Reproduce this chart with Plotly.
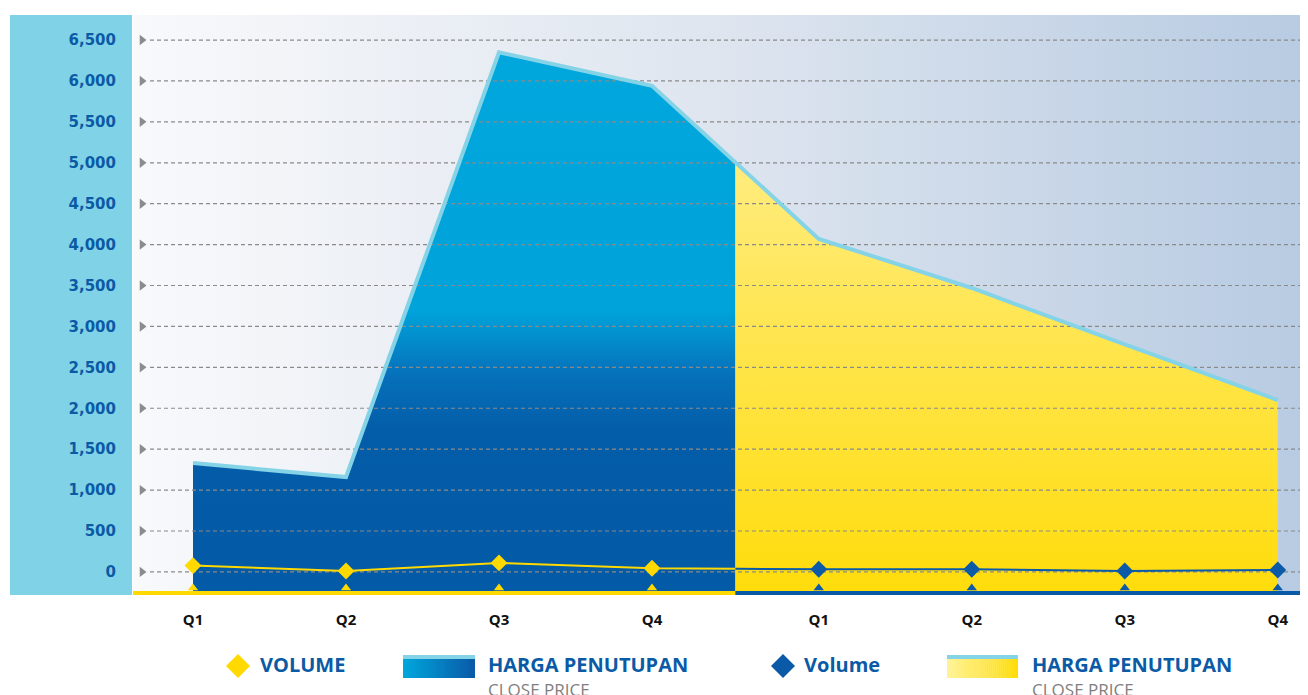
import plotly.graph_objects as go

# ---------------- data ----------------
quarters = ["Q1", "Q2", "Q3", "Q4", "Q1", "Q2", "Q3", "Q4"]
close_price = [1330, 1160, 6350, 5940, 4070, 3470, 2780, 2100]
volume = [77, 12, 110, 45, 33, 33, 12, 24]
y_ticks = [0, 500, 1000, 1500, 2000, 2500, 3000, 3500, 4000, 4500, 5000, 5500, 6000, 6500]
legend_labels = ["VOLUME", "HARGA PENUTUPAN", "Volume", "HARGA PENUTUPAN"]
legend_sub = "CLOSE PRICE"

# ---------------- layout constants ----------------
PAGE_OFF = 8            # browser body margin
W, H = 1308 - PAGE_OFF, 695 - PAGE_OFF
ML, MT = 133 - PAGE_OFF, 15 - PAGE_OFF
PW, PH = 1175, 580
MR, MB = W - ML - PW, H - MT - PH
RL, RT = 133, 15        # plot-area left/top in reference pixels
UNIT = 153.0            # px per quarter
YEAR_GAP = 0.09         # extra spacing between the two years
Y_RANGE = [-282, 6806]
X0 = -(193 - RL) / UNIT
X_RANGE = [X0, X0 + PW / UNIT]

xpos = [i + (YEAR_GAP if i >= 4 else 0) for i in range(len(quarters))]
n1 = 4  # quarters of first year

def xd(px):
    return X_RANGE[0] + (px - RL) / UNIT

def yd(py):
    return Y_RANGE[0] + (RT + PH - py) / PH * (Y_RANGE[1] - Y_RANGE[0])

def xp(px):
    return (px - RL) / PW

def yp(py):
    return (RT + PH - py) / PH

BLUE_TXT = "#0B5AA6"
DARK_BLUE = "#0A5AA8"
YELLOW = "#FFD900"
LINE_BLUE = "#85D3E7"

split_x = (xpos[n1 - 1] + xpos[n1]) / 2
split_close = (close_price[n1 - 1] + close_price[n1]) / 2
split_vol = (volume[n1 - 1] + volume[n1]) / 2
YB = Y_RANGE[0]

fig = go.Figure()

# background gradient
fig.add_trace(go.Scatter(
    x=[X_RANGE[0], X_RANGE[1], X_RANGE[1], X_RANGE[0], X_RANGE[0]],
    y=[Y_RANGE[0], Y_RANGE[0], Y_RANGE[1], Y_RANGE[1], Y_RANGE[0]],
    fill="toself", mode="lines", line=dict(width=0),
    fillgradient=dict(type="horizontal", start=X_RANGE[0], stop=X_RANGE[1],
                      colorscale=[[0, "#F8F9FB"], [0.5, "#DEE5EF"], [1, "#B7CBE2"]]),
    hoverinfo="skip", showlegend=False))

# blue area (first year)
fig.add_trace(go.Scatter(
    x=xpos[:n1] + [split_x, split_x, xpos[0], xpos[0]],
    y=close_price[:n1] + [split_close, YB, YB, close_price[0]],
    fill="toself", mode="lines", line=dict(width=0),
    fillgradient=dict(type="vertical", start=YB, stop=6400,
                      colorscale=[[0, "#035AA6"], [0.3, "#045DA8"], [0.4, "#0670BA"],
                                  [0.52, "#00A3DA"], [1, "#00A7DD"]]),
    hoverinfo="skip", showlegend=False))

# yellow area (second year)
fig.add_trace(go.Scatter(
    x=[split_x] + xpos[n1:] + [xpos[-1], split_x, split_x],
    y=[split_close] + close_price[n1:] + [YB, YB, split_close],
    fill="toself", mode="lines", line=dict(width=0),
    fillgradient=dict(type="vertical", start=YB, stop=5100,
                      colorscale=[[0, "#FFDC0A"], [1, "#FFEC80"]]),
    hoverinfo="skip", showlegend=False))

# dashed gridlines
gx, gy = [], []
for v in y_ticks:
    gx += [xd(150), X_RANGE[1], None]
    gy += [v, v, None]
fig.add_trace(go.Scatter(x=gx, y=gy, mode="lines",
                         line=dict(color="#8A8A8A", width=1.2, dash="4px,3px"),
                         hoverinfo="skip", showlegend=False))
# grid arrows
fig.add_trace(go.Scatter(x=[xd(142)] * len(y_ticks), y=y_ticks, mode="markers",
                         marker=dict(symbol="triangle-right", size=9, color="#8C8C8C"),
                         cliponaxis=False, hoverinfo="skip", showlegend=False))

# close price line
fig.add_trace(go.Scatter(x=xpos, y=close_price, mode="lines",
                         line=dict(color=LINE_BLUE, width=4),
                         hoverinfo="skip", showlegend=False))

# volume first year (yellow)
fig.add_trace(go.Scatter(x=xpos[:n1] + [split_x], y=volume[:n1] + [split_vol], mode="lines",
                         line=dict(color=YELLOW, width=2), hoverinfo="skip", showlegend=False))
fig.add_trace(go.Scatter(x=xpos[:n1], y=volume[:n1], mode="markers",
                         marker=dict(symbol="diamond", size=13, color=YELLOW),
                         cliponaxis=False, showlegend=False))
# volume second year (blue)
fig.add_trace(go.Scatter(x=[split_x] + xpos[n1:], y=[split_vol] + volume[n1:], mode="lines",
                         line=dict(color=DARK_BLUE, width=2), hoverinfo="skip", showlegend=False))
fig.add_trace(go.Scatter(x=xpos[n1:], y=volume[n1:], mode="markers",
                         marker=dict(symbol="diamond", size=13, color=DARK_BLUE),
                         cliponaxis=False, showlegend=False))

# bottom tick triangles
fig.add_trace(go.Scatter(x=xpos[:n1], y=[yd(588)] * n1, mode="markers",
                         marker=dict(symbol="triangle-up", size=9, color=YELLOW),
                         cliponaxis=False, hoverinfo="skip", showlegend=False))
fig.add_trace(go.Scatter(x=xpos[n1:], y=[yd(588)] * (len(xpos) - n1), mode="markers",
                         marker=dict(symbol="triangle-up", size=9, color=DARK_BLUE),
                         cliponaxis=False, hoverinfo="skip", showlegend=False))

shapes = []
# y-axis panel
shapes.append(dict(type="rect", xref="paper", yref="paper", x0=xp(10), x1=xp(132),
                   y0=yp(595), y1=yp(15), fillcolor="#80D3E6", line=dict(width=0), layer="below"))
# bottom axis lines
shapes.append(dict(type="rect", xref="x", yref="paper", x0=X_RANGE[0], x1=split_x,
                   y0=yp(595), y1=yp(591), fillcolor=YELLOW, line=dict(width=0), layer="above"))
shapes.append(dict(type="rect", xref="x", yref="paper", x0=split_x, x1=X_RANGE[1],
                   y0=yp(595), y1=yp(591), fillcolor=DARK_BLUE, line=dict(width=0), layer="above"))

# legend gradient swatches
def grad_rect(x0, x1, y0, y1, c0, c1, n=36):
    def h2r(h):
        h = h.lstrip("#")
        return [int(h[i:i + 2], 16) for i in (0, 2, 4)]
    a, b = h2r(c0), h2r(c1)
    out = []
    for i in range(n):
        t = i / (n - 1)
        col = "rgb({},{},{})".format(*[round(a[k] + (b[k] - a[k]) * t) for k in range(3)])
        xa = x0 + (x1 - x0) * i / n
        xb = x0 + (x1 - x0) * (i + 1) / n + 0.3
        out.append(dict(type="rect", xref="paper", yref="paper", x0=xp(xa), x1=xp(min(xb, x1)),
                        y0=yp(y1), y1=yp(y0), fillcolor=col, line=dict(width=0), layer="above"))
    out.append(dict(type="rect", xref="paper", yref="paper", x0=xp(x0), x1=xp(x1),
                    y0=yp(y0 + 4), y1=yp(y0), fillcolor=LINE_BLUE, line=dict(width=0), layer="above"))
    return out

shapes += grad_rect(403, 475, 655, 678, "#00A6DC", "#0A5AA8")
shapes += grad_rect(947, 1018, 655, 678, "#FFF39A", "#FFDD00")

def diamond(cx, cy, color, r=12):
    return dict(type="path", xref="paper", yref="paper", xsizemode="pixel", ysizemode="pixel",
                xanchor=xp(cx), yanchor=yp(cy),
                path=f"M {-r} 0 L 0 {r} L {r} 0 L 0 {-r} Z",
                fillcolor=color, line=dict(width=0), layer="above")

shapes.append(diamond(238, 666, YELLOW))
shapes.append(diamond(783, 666, DARK_BLUE))

annotations = []
for lbl, x in zip(legend_labels, [259, 487, 803, 1031]):
    annotations.append(dict(xref="paper", yref="paper", x=xp(x), y=yp(664), text=lbl,
                            showarrow=False, xanchor="left", yanchor="middle", borderpad=0,
                            font=dict(family="Open Sans", size=20, color=BLUE_TXT, weight=700)))
for x in [487, 1031]:
    annotations.append(dict(xref="paper", yref="paper", x=xp(x), y=yp(689), text=legend_sub,
                            showarrow=False, xanchor="left", yanchor="middle", borderpad=0,
                            font=dict(family="Open Sans", size=17, color="#7F7F7F")))

fig.update_layout(
    width=W, height=H,
    margin=dict(l=ML, r=MR, t=MT, b=MB),
    paper_bgcolor="white", plot_bgcolor="rgba(0,0,0,0)",
    showlegend=False,
    shapes=shapes, annotations=annotations,
    xaxis=dict(range=X_RANGE, showgrid=False, zeroline=False, showline=False,
               tickvals=xpos, ticktext=quarters, ticks="", ticklabelstandoff=14,
               tickfont=dict(family="Open Sans", size=15, color="#111111", weight=700)),
    yaxis=dict(range=Y_RANGE, showgrid=False, zeroline=False, showline=False,
               tickvals=y_ticks, tickformat=",", ticks="", ticklabelstandoff=16,
               tickfont=dict(family="DejaVu Sans", size=15, color=BLUE_TXT, weight=700)),
)

fig.write_html("out.html")
